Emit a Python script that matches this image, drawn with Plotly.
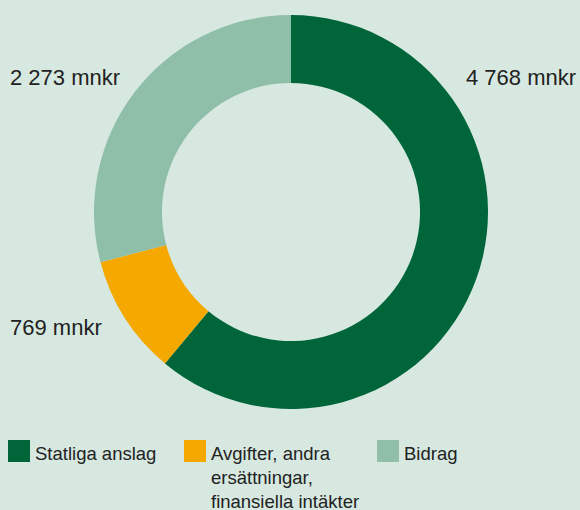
import plotly.graph_objects as go

W, H = 580, 510

# ---- data ----
categories = ["Statliga anslag", "Avgifter, andra ersättningar, finansiella intäkter", "Bidrag"]
legend_text = ["Statliga anslag", "Avgifter, andra<br>ersättningar,<br>finansiella intäkter", "Bidrag"]
values = [4768, 769, 2273]
colors = ["#00663a", "#f5a800", "#8fbfa8"]

BG = "#d6e8e0"
TXT = "#222222"
FONT = "Liberation Sans, Arial, sans-serif"

def px(x):
    return x / W

def py(y):
    return 1 - y / H

# donut geometry (pixels)
cx, cy, r = 291, 212, 197

fig = go.Figure(go.Pie(
    labels=categories,
    values=values,
    marker=dict(colors=colors, line=dict(width=0)),
    hole=0.655,
    sort=False,
    direction="clockwise",
    rotation=0,
    textinfo="none",
    hoverinfo="label+value",
    showlegend=False,
    domain=dict(x=[px(cx - r), px(cx + r)], y=[py(cy + r), py(cy - r)]),
))

def fmt(v):
    return f"{v:,}".replace(",", " ") + " mnkr"

# value labels: (x, y, xanchor)
label_pos = [(578, 77, "right"), (8, 77 + 250, "left"), (8, 77, "left")]
annotations = []
for v, (x, y, xa) in zip(values, label_pos):
    annotations.append(dict(
        x=px(x), y=py(y), xref="paper", yref="paper",
        text=fmt(v), showarrow=False, xanchor=xa, yanchor="middle",
        font=dict(family=FONT, size=22, color=TXT),
    ))

# manual legend
leg_sq_x = [8, 184, 377]
leg_sq_y, sq = 440, 22
shapes = []
for name, col, x0 in zip(legend_text, colors, leg_sq_x):
    shapes.append(dict(
        type="rect", xref="paper", yref="paper",
        x0=px(x0), x1=px(x0 + sq), y0=py(leg_sq_y + sq), y1=py(leg_sq_y),
        fillcolor=col, line=dict(width=0),
    ))
    annotations.append(dict(
        x=px(x0 + sq + 3), y=py(leg_sq_y + 0.5), xref="paper", yref="paper",
        text=name, showarrow=False, xanchor="left", yanchor="top", align="left",
        font=dict(family=FONT, size=18.5, color=TXT),
    ))

fig.update_layout(
    width=W, height=H,
    margin=dict(l=0, r=0, t=0, b=0),
    paper_bgcolor=BG, plot_bgcolor=BG,
    annotations=annotations, shapes=shapes,
)

fig.write_html(
    "out.html",
    config={"displayModeBar": False},
    post_script="document.body.style.margin='0';document.body.style.overflow='hidden';",
)
